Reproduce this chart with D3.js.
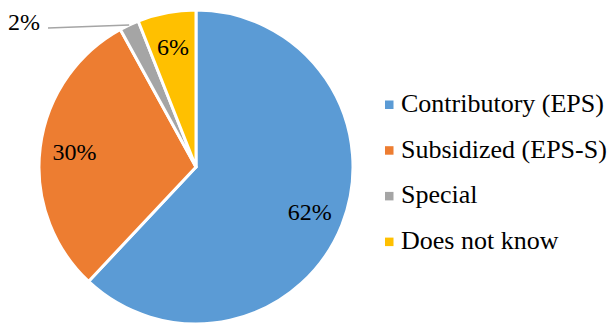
<!DOCTYPE html>
<html>
<head>
<meta charset="utf-8">
<script src="https://cdn.jsdelivr.net/npm/d3@7/dist/d3.min.js"></script>
</head>
<body style="margin:0">
<svg id="chart" width="612" height="323" font-family="Times New Roman" style="font-family: 'Times New Roman', 'Liberation Serif', serif;"></svg>
<script>
// Health insurance regime shares (%)
const categories = ["Contributory (EPS)", "Subsidized (EPS-S)", "Special", "Does not know"];
const values = [62, 30, 2, 6];
const labels = ["62%", "30%", "2%", "6%"];
const colors = ["#5B9BD5", "#ED7D31", "#A5A5A5", "#FFC000"];

const svg = d3.select("#chart");
const cx = 196, cy = 167, r = 157;

const pie = d3.pie().sort(null).value(d => d)(values);
const arc = d3.arc().innerRadius(0).outerRadius(r);
const labelArc = d3.arc().innerRadius(r * 0.78).outerRadius(r * 0.78);

const g = svg.append("g").attr("transform", `translate(${cx},${cy})`);

g.selectAll("path.slice")
  .data(pie)
  .enter().append("path")
  .attr("class", "slice")
  .attr("d", arc)
  .attr("fill", (d, i) => colors[i])
  .attr("stroke", "#fff")
  .attr("stroke-width", 3)
  .attr("stroke-linejoin", "round");

// Inside labels for the larger slices, outside label with leader for the tiny one
pie.forEach((d, i) => {
  if (values[i] < 5) {
    const mid = (d.startAngle + d.endAngle) / 2;
    const px = r * Math.sin(mid), py = -r * Math.cos(mid);
    const lx = 48 - cx, ly = 28 - cy;
    g.append("line")
      .attr("x1", px).attr("y1", py)
      .attr("x2", lx).attr("y2", ly)
      .attr("stroke", "#A5A5A5").attr("stroke-width", 1.5);
    g.append("text")
      .attr("x", lx - 8).attr("y", ly + 2)
      .attr("text-anchor", "end")
      .attr("font-size", 24)
      .attr("fill", "#000")
      .text(labels[i]);
  } else {
    const [x, y] = labelArc.centroid(d);
    g.append("text")
      .attr("x", x).attr("y", y + 8)
      .attr("text-anchor", "middle")
      .attr("font-size", 24)
      .attr("fill", "#000")
      .text(labels[i]);
  }
});

// Legend
const legend = svg.append("g").attr("transform", "translate(385,112)");
const rows = legend.selectAll("g.row")
  .data(categories)
  .enter().append("g")
  .attr("class", "row")
  .attr("transform", (d, i) => `translate(0,${i * 45.7})`);
rows.append("rect")
  .attr("x", 0).attr("y", -11.5)
  .attr("width", 8.5).attr("height", 8.5)
  .attr("fill", (d, i) => colors[i]);
rows.append("text")
  .attr("x", 16).attr("y", 0)
  .attr("font-size", 26)
  .attr("fill", "#000")
  .text(d => d);
</script>
</body>
</html>
